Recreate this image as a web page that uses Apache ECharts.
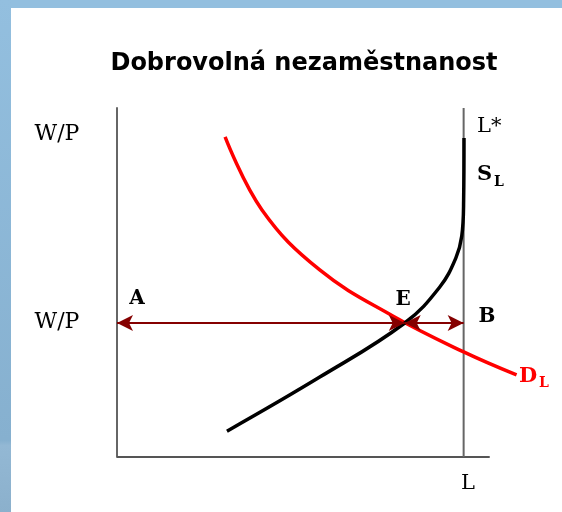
<!DOCTYPE html>
<html>
<head>
<meta charset="utf-8">
<script src="https://cdn.jsdelivr.net/npm/echarts@6/dist/echarts.min.js"></script>
<style>
  html, body { margin: 0; padding: 0; background: #fff; }
  #chart { width: 562px; height: 512px; }
</style>
</head>
<body>
<div id="chart"></div>
<script>
// data (abstract units: L on x 0..100, W/P on y 0..100)
const demandCurve = [[29.0, 91.7], [38.9, 70.8], [54.4, 53.6], [74.0, 40.4], [93.0, 30.1], [107.2, 23.5]];
const supplyCurve = [[29.5, 7.4], [54.4, 22.9], [77.2, 38.4], [86.6, 48.7], [90.9, 57.0], [92.5, 63.3], [93.0, 73.6], [93.1, 91.4]];
const fullEmployment = 93;     // L*
const wageLevel = 38.4;        // W/P
const equilibriumL = 77.2;     // E
const laborLine = [[fullEmployment, 0], [fullEmployment, 100]];
const lAxisLine = [[0, 0], [100, 0]];

document.addEventListener('DOMContentLoaded', function () {
  const chart = echarts.init(document.getElementById('chart'));

  const serif = 'DejaVu Serif';
  const txt = (x, y, text, opts) => ({
    type: 'text', x: x, y: y, silent: true,
    style: Object.assign({ text: text, font: '21px "' + serif + '"', fill: '#000', textAlign: 'center', textVerticalAlign: 'middle' }, opts || {})
  });

  const option = {
    animation: false,
    backgroundColor: '#fff',
    // x runs to 110 so the demand curve can pass the end of the L axis
    grid: { left: 117, top: 108, width: 410, height: 349 },
    xAxis: {
      type: 'value', min: 0, max: 110,
      axisLine: { show: false },
      axisTick: { show: false }, axisLabel: { show: false }, splitLine: { show: false }
    },
    yAxis: {
      type: 'value', min: 0, max: 100,
      axisLine: { show: true, onZero: false, lineStyle: { color: '#666', width: 2 } },
      axisTick: { show: false }, axisLabel: { show: false }, splitLine: { show: false }
    },
    series: [
      {
        name: 'L', type: 'line', data: lAxisLine, symbol: 'none', silent: true,
        lineStyle: { color: '#555', width: 2 }
      },
      {
        name: 'L*', type: 'line', data: laborLine, symbol: 'none', silent: true,
        lineStyle: { color: '#666', width: 2 }
      },
      {
        name: 'DL', type: 'line', data: demandCurve, smooth: 0.4,
        symbol: 'none', silent: true,
        lineStyle: { color: '#ff0000', width: 3.5 }
      },
      {
        name: 'SL', type: 'line', data: supplyCurve, smooth: 0.4,
        symbol: 'none', silent: true,
        lineStyle: { color: '#000', width: 3.5 }
      },
      {
        name: 'arrows', type: 'line', data: [], silent: true,
        markLine: {
          silent: true,
          symbol: ['arrow', 'arrow'],
          symbolSize: [12, 16],
          label: { show: false },
          lineStyle: { color: '#850000', width: 2, type: 'solid' },
          data: [
            [{ coord: [0, wageLevel] }, { coord: [equilibriumL, wageLevel] }],
            [{ coord: [equilibriumL, wageLevel] }, { coord: [fullEmployment, wageLevel] }]
          ]
        }
      }
    ],
    graphic: [
      { type: 'rect', shape: { x: 0, y: 0, width: 562, height: 8 }, style: { fill: '#93bfdf' }, silent: true },
      {
        type: 'rect', shape: { x: 0, y: 0, width: 11, height: 512 }, silent: true,
        style: {
          fill: new echarts.graphic.LinearGradient(0, 0, 0, 1, [
            { offset: 0, color: '#93bfdf' },
            { offset: 0.86, color: '#86b0cf' },
            { offset: 0.87, color: '#93b8d4' },
            { offset: 1, color: '#8bb0cc' }
          ])
        }
      },
      {
        type: 'text', x: 304, y: 64, silent: true,
        style: { text: 'Dobrovolná nezaměstnanost', font: 'bold 24px "DejaVu Sans"', fill: '#000', textAlign: 'center', textVerticalAlign: 'middle' }
      },
      txt(57, 134, 'W/P', { font: '22px "' + serif + '"' }),
      txt(57, 322, 'W/P', { font: '22px "' + serif + '"' }),
      txt(137, 299, 'A', { font: 'bold 20px "' + serif + '"' }),
      txt(403, 300, 'E', { font: 'bold 20px "' + serif + '"' }),
      txt(487, 317, 'B', { font: 'bold 20px "' + serif + '"' }),
      txt(477, 127, 'L*', { textAlign: 'left' }),
      txt(477, 175, 'S', { textAlign: 'left', font: 'bold 21px "' + serif + '"' }),
      txt(494, 182, 'L', { textAlign: 'left', font: 'bold 14px "' + serif + '"' }),
      txt(519, 377, 'D', { textAlign: 'left', font: 'bold 21px "' + serif + '"', fill: '#ff0000' }),
      txt(539, 383, 'L', { textAlign: 'left', font: 'bold 14px "' + serif + '"', fill: '#ff0000' }),
      txt(468, 484, 'L')
    ]
  };

  chart.setOption(option);

  window.addEventListener('resize', function () {
    chart.resize();
  });
});
</script>
</body>
</html>
